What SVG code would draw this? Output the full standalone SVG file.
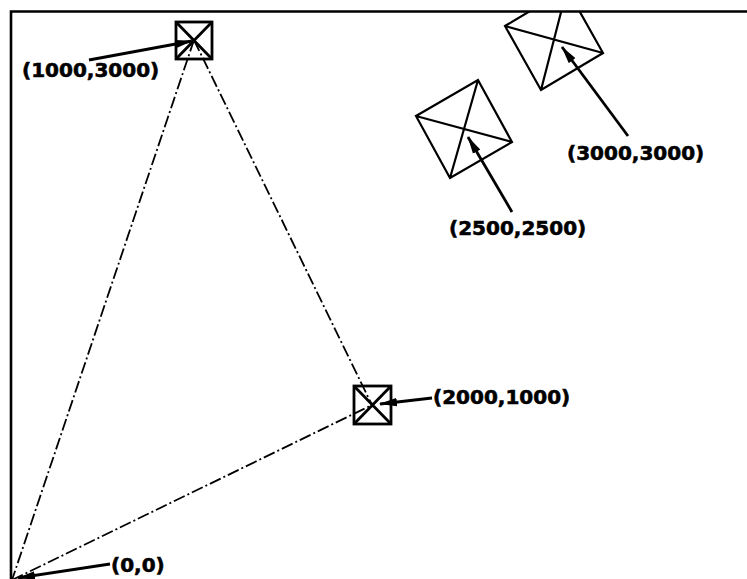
<svg xmlns="http://www.w3.org/2000/svg" width="747" height="579" viewBox="0 0 747 579">
<defs>
<style>
.lbl{font-family:"DejaVu Sans","Liberation Sans",sans-serif;font-weight:bold;font-size:20px;fill:#000;stroke:#000;stroke-width:0.6}
.box{fill:none;stroke:#000;stroke-width:2.8}
.tilt{fill:none;stroke:#000;stroke-width:2.2}
.frame{fill:none;stroke:#000;stroke-width:2.6}
.dash{fill:none;stroke:#000;stroke-width:1.8;stroke-dasharray:12 3 2 3}
.arr{fill:none;stroke:#000;stroke-width:2.8;marker-end:url(#ah)}
</style>
<marker id="ah" viewBox="0 0 18 9" refX="17" refY="4.5" markerWidth="18" markerHeight="9" markerUnits="userSpaceOnUse" orient="auto">
<path d="M0,0.3 L18,4.5 L0,8.7 z" fill="#000"/>
</marker>
<clipPath id="clipTop"><rect x="0" y="11.5" width="747" height="570"/></clipPath>
</defs>
<rect width="747" height="579" fill="#fff"/>
<g id="frame">
<path class="frame" d="M11,579 V11.5 H747"/>
</g>
<g id="connectors">
<line class="dash" x1="194" y1="40" x2="12" y2="580"/>
<line class="dash" x1="194" y1="40" x2="372" y2="405"/>
<line class="dash" x1="12" y1="580" x2="372" y2="405"/>
</g>
<g id="node-1000-3000">
<rect class="box" x="176" y="22" width="36" height="37"/>
<path class="box" d="M176,22 L212,59 M212,22 L176,59"/>
</g>
<g id="node-2000-1000">
<rect class="box" x="354" y="386" width="37" height="38"/>
<path class="box" d="M354,386 L391,424 M391,386 L354,424"/>
</g>
<g id="node-2500-2500">
<path class="tilt" d="M478,80 L512,142 L450,178 L416,116 Z M416,116 L512,142 M478,80 L450,178"/>
</g>
<g id="node-3000-3000" clip-path="url(#clipTop)">
<path class="tilt" d="M567,-11 L603,53 L541,90 L505,26 Z M505,26 L603,53 M567,-11 L541,90"/>
</g>
<g id="labels">
<line class="arr" x1="89" y1="60" x2="192" y2="41"/>
<text class="lbl" x="22" y="77">(1000,3000)</text>
<line class="arr" x1="432" y1="398" x2="380" y2="404"/>
<text class="lbl" x="433" y="404">(2000,1000)</text>
<line class="arr" x1="512" y1="212" x2="468" y2="137"/>
<text class="lbl" x="449" y="235">(2500,2500)</text>
<line class="arr" x1="628" y1="136" x2="562" y2="47"/>
<text class="lbl" x="567" y="160">(3000,3000)</text>
<line class="arr" x1="110" y1="564" x2="18" y2="578"/>
<text class="lbl" x="111" y="572">(0,0)</text>
</g>
</svg>
